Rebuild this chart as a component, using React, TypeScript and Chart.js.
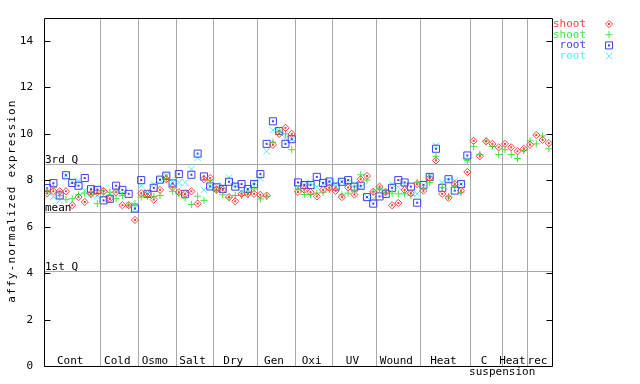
import React, { useEffect, useRef } from 'react';
import { Chart, registerables } from 'chart.js';

Chart.register(...registerables);

// ---- data ----
const groupLabels = ['Cont', 'Cold', 'Osmo', 'Salt', 'Dry', 'Gen', 'Oxi', 'UV', 'Wound', 'Heat', 'C', 'Heat', 'rec'];
const groupSizes = [9, 6, 6, 6, 7, 6, 6, 7, 7, 8, 5, 4, 4];
const groupSubLabels = ['', '', '', '', '', '', '', '', '', '', 'suspension', '', ''];

const shootRed = [
  7.44, 7.53, 7.53, 7.53, 6.93, 7.28, 7.07, 7.42, 7.49,
  7.53, 7.21, 7.49, 6.93, 6.93, 6.30,
  7.45, 7.42, 7.17, 7.59, 8.05, 7.70,
  7.49, 7.42, 7.53, 7.00, 8.05, 8.10,
  7.60, 7.59, 7.28, 7.10, 7.42, 7.42, 7.42,
  7.38, 7.35, 9.53, 10.0, 10.26, 10.0,
  7.50, 7.60, 7.49, 7.31, 7.59, 7.68,
  7.55, 7.28, 7.70, 7.39, 8.05, 8.19, 7.51,
  7.73, 7.50, 6.93, 7.03, 7.59, 7.45, 7.84,
  7.56, 8.10, 8.86, 7.42, 7.25, 7.84, 7.56, 8.36,
  9.70, 9.04, 9.68, 9.57, 9.42,
  9.57, 9.42, 9.25, 9.36,
  9.53, 9.95, 9.74, 9.60,
];
const shootGreen = [
  7.56, 7.69, 7.35, 7.17, 7.21, 7.38, 7.45, 7.39, 7.00,
  7.56, 7.49, 7.21, 7.35, 6.93, 7.00,
  7.28, 7.31, 7.31, 7.35, 8.08, 7.53,
  7.42, 7.24, 6.96, 7.32, 7.14, 7.98,
  7.59, 7.38, 7.25, 7.35, 7.35, 7.38, 7.63,
  7.20, 7.31, 9.64, 10.12, 10.0, 9.32,
  7.63, 7.39, 7.39, 7.45, 7.49, 7.60,
  7.63, 7.38, 7.45, 7.53, 8.24, 8.01, 7.51,
  7.63, 7.49, 7.45, 7.42, 7.42, 7.35, 7.91,
  7.63, 7.91, 9.04, 7.70, 7.31, 7.77, 7.49, 8.86,
  9.46, 9.11, 9.70, 9.46, 9.11,
  9.32, 9.11, 8.94, 9.28,
  9.70, 9.57, 9.91, 9.36,
];
const rootBlue = [
  7.67, 7.88, 7.35, 8.22, 7.89, 7.77, 8.10, 7.62, 7.59,
  7.14, 7.21, 7.77, 7.59, 7.42, 6.79,
  8.01, 7.42, 7.68, 8.03, 8.20, 7.87,
  8.27, 7.42, 8.24, 9.15, 8.17, 7.74,
  7.70, 7.63, 7.94, 7.73, 7.84, 7.63, 7.84,
  8.27, 9.57, 10.54, 10.12, 9.57, 9.77,
  7.91, 7.80, 7.80, 8.15, 7.89, 7.95,
  7.73, 7.94, 8.01, 7.73, 7.77, 7.28, 7.00,
  7.31, 7.42, 7.68, 8.01, 7.91, 7.73, 7.04,
  7.80, 8.15, 9.36, 7.68, 8.05, 7.56, 7.84, 9.07,
  null, null, null, null, null,
  null, null, null, null,
  null, null, null, null,
];
const rootCyan = [
  7.52, 7.29, 7.14, 8.20, 7.95, 7.98, 7.56, 7.42, 7.35,
  7.35, 7.42, 7.56, 7.42, 6.93, 6.79,
  7.77, 7.42, 7.84, 8.03, 8.20, 7.91,
  7.91, 7.91, 8.48, 8.97, 7.59, 7.74,
  7.77, 7.77, 8.12, 7.84, 7.50, 7.63, 7.91,
  8.10, 9.25, 10.16, 10.12, 9.81, 9.77,
  7.70, 7.85, 7.90, 7.73, 7.85, 7.95,
  7.87, 7.94, 7.90, 7.83, 7.70, 7.28, 7.21,
  7.63, 7.53, 7.84, 7.70, 7.80, 7.49, 7.42,
  7.80, 8.19, 9.50, 7.91, 7.98, 7.98, 7.84, 8.86,
  null, null, null, null, null,
  null, null, null, null,
  null, null, null, null,
];

const yTicks = [0, 2, 4, 6, 8, 10, 12, 14];
const quartileLabels = ['3rd Q', 'mean', '1st Q'];
const quartileValues = [8.69, 6.62, 4.10];
const seriesLabels = ['shoot', 'shoot', 'root', 'root'];
const yTitle = 'affy-normalized expression';

// ---- styles ----
const RED = '#ff4040';
const GREEN = '#40e840';
const BLUE = '#4040f0';
const CYAN = '#50f0f0';
const GRID = '#a8a8a8';
const FONT = "11px 'DejaVu Sans Mono', monospace";
const seriesColors = [RED, GREEN, BLUE, CYAN];
const seriesStyles = ['rectRot', 'cross', 'rect', 'crossRot'];
const seriesRadius = [3.6, 3.6, 5, 4.6];
const seriesCenterDot = [true, false, true, false];

const totalSlots = groupSizes.reduce((a, b) => a + b, 0);

function toPoints(values: (number | null)[]) {
  const pts: { x: number; y: number }[] = [];
  values.forEach((v, i) => {
    if (v !== null) pts.push({ x: i + 0.5, y: v });
  });
  return pts;
}

function drawMarker(ctx: CanvasRenderingContext2D, style: string, x: number, y: number, r: number, color: string, dot: boolean) {
  ctx.save();
  ctx.strokeStyle = color;
  ctx.fillStyle = color;
  ctx.lineWidth = 1;
  ctx.beginPath();
  if (style === 'rectRot') {
    ctx.moveTo(x, y - r);
    ctx.lineTo(x + r, y);
    ctx.lineTo(x, y + r);
    ctx.lineTo(x - r, y);
    ctx.closePath();
  } else if (style === 'cross') {
    ctx.moveTo(x - r, y);
    ctx.lineTo(x + r, y);
    ctx.moveTo(x, y - r);
    ctx.lineTo(x, y + r);
  } else if (style === 'rect') {
    const s = r * Math.SQRT1_2;
    ctx.rect(x - s, y - s, 2 * s, 2 * s);
  } else {
    const s = r * Math.SQRT1_2;
    ctx.moveTo(x - s, y - s);
    ctx.lineTo(x + s, y + s);
    ctx.moveTo(x - s, y + s);
    ctx.lineTo(x + s, y - s);
  }
  ctx.stroke();
  if (dot) ctx.fillRect(x - 1, y - 1, 2, 2);
  ctx.restore();
}

const decorPlugin = {
  id: 'decor',
  beforeDatasetsDraw(chart: any) {
    const { ctx, chartArea: a, scales } = chart;
    const xs = scales.x;
    const ys = scales.y;
    ctx.save();
    ctx.strokeStyle = GRID;
    ctx.lineWidth = 1;
    let acc = 0;
    for (let g = 0; g < groupSizes.length - 1; g++) {
      acc += groupSizes[g];
      const px = Math.round(xs.getPixelForValue(acc)) + 0.5;
      ctx.beginPath();
      ctx.moveTo(px, a.top);
      ctx.lineTo(px, a.bottom);
      ctx.stroke();
    }
    quartileValues.forEach((v) => {
      const py = Math.round(ys.getPixelForValue(v)) + 0.5;
      ctx.beginPath();
      ctx.moveTo(a.left, py);
      ctx.lineTo(a.right, py);
      ctx.stroke();
    });
    ctx.restore();
  },
  afterDatasetDraw(chart: any, args: any) {
    const i = args.index;
    if (!seriesCenterDot[i]) return;
    const { ctx } = chart;
    ctx.save();
    ctx.fillStyle = seriesColors[i];
    args.meta.data.forEach((el: any) => {
      ctx.fillRect(el.x - 1, el.y - 1, 2, 2);
    });
    ctx.restore();
  },
  afterDatasetsDraw(chart: any) {
    const { ctx, chartArea: a, scales } = chart;
    const xs = scales.x;
    const ys = scales.y;
    ctx.save();
    ctx.strokeStyle = '#000';
    ctx.lineWidth = 1;
    const L = Math.round(a.left) + 0.5;
    const R = Math.round(a.right) + 0.5;
    const T = Math.round(a.top) + 0.5;
    const B = Math.round(a.bottom) + 0.5;
    ctx.beginPath();
    ctx.rect(L, T, R - L, B - T);
    ctx.stroke();
    yTicks.forEach((v) => {
      const py = Math.round(ys.getPixelForValue(v)) + 0.5;
      ctx.beginPath();
      ctx.moveTo(L, py);
      ctx.lineTo(L + 6, py);
      ctx.moveTo(R, py);
      ctx.lineTo(R - 6, py);
      ctx.stroke();
    });
    ctx.font = FONT;
    ctx.fillStyle = '#000';
    ctx.textAlign = 'left';
    ctx.textBaseline = 'alphabetic';
    quartileValues.forEach((v, i) => {
      const py = Math.round(ys.getPixelForValue(v));
      ctx.fillText(quartileLabels[i], a.left + 1, py - 1);
    });
    ctx.textAlign = 'center';
    let acc = 0;
    groupSizes.forEach((n, g) => {
      const cx = xs.getPixelForValue(acc + n / 2) - 2;
      ctx.fillText(groupLabels[g], cx, a.bottom - 2);
      if (groupSubLabels[g]) {
        ctx.fillText(groupSubLabels[g], cx + 18, a.bottom + 9);
      }
      acc += n;
    });
    seriesLabels.forEach((lab, i) => {
      const ly = 24 + i * 10.7;
      ctx.fillStyle = seriesColors[i];
      ctx.textAlign = 'right';
      ctx.textBaseline = 'middle';
      ctx.fillText(lab, 586, ly);
      drawMarker(ctx, seriesStyles[i], 609, ly, seriesRadius[i], seriesColors[i], seriesCenterDot[i]);
    });
    ctx.fillStyle = '#000';
    ctx.translate(12.5, 201);
    ctx.rotate(-Math.PI / 2);
    ctx.textAlign = 'center';
    ctx.textBaseline = 'middle';
    (ctx as any).letterSpacing = '1.2px';
    ctx.fillText(yTitle, 0, 0);
    ctx.restore();
  },
};

export default function App() {
  const ref = useRef<HTMLCanvasElement>(null);
  useEffect(() => {
    if (!ref.current) return;
    const chart = new Chart(ref.current, {
      type: 'scatter',
      data: {
        datasets: [shootRed, shootGreen, rootBlue, rootCyan].map((vals, i) => ({
          label: seriesLabels[i],
          data: toPoints(vals),
          pointStyle: seriesStyles[i] as any,
          pointRadius: seriesRadius[i],
          pointBorderWidth: 1,
          borderColor: seriesColors[i],
          backgroundColor: 'rgba(0,0,0,0)',
          showLine: false,
        })),
      },
      options: {
        animation: false,
        responsive: false,
        maintainAspectRatio: false,
        events: [],
        layout: { padding: { left: 0, right: 88, top: 13, bottom: 15 } },
        plugins: { legend: { display: false }, tooltip: { enabled: false }, title: { display: false } },
        scales: {
          x: { type: 'linear', min: 0, max: totalSlots, display: false },
          y: {
            type: 'linear',
            min: 0,
            max: 15,
            afterFit: (s: any) => { s.width = 44; },
            grid: { display: false, drawTicks: false },
            border: { display: false },
            afterBuildTicks: (s: any) => { s.ticks = yTicks.map((v) => ({ value: v })); },
            ticks: {
              color: '#000',
              padding: 11,
              font: { family: "'DejaVu Sans Mono', monospace", size: 11 },
            },
          },
        },
      },
      plugins: [decorPlugin],
    });
    return () => chart.destroy();
  }, []);
  return (
    <div style={{ position: 'fixed', left: 0, top: 0, width: 640, height: 384, background: '#fff' }}>
      <canvas ref={ref} width={640} height={384} style={{ width: 640, height: 384, display: 'block' }} />
    </div>
  );
}
